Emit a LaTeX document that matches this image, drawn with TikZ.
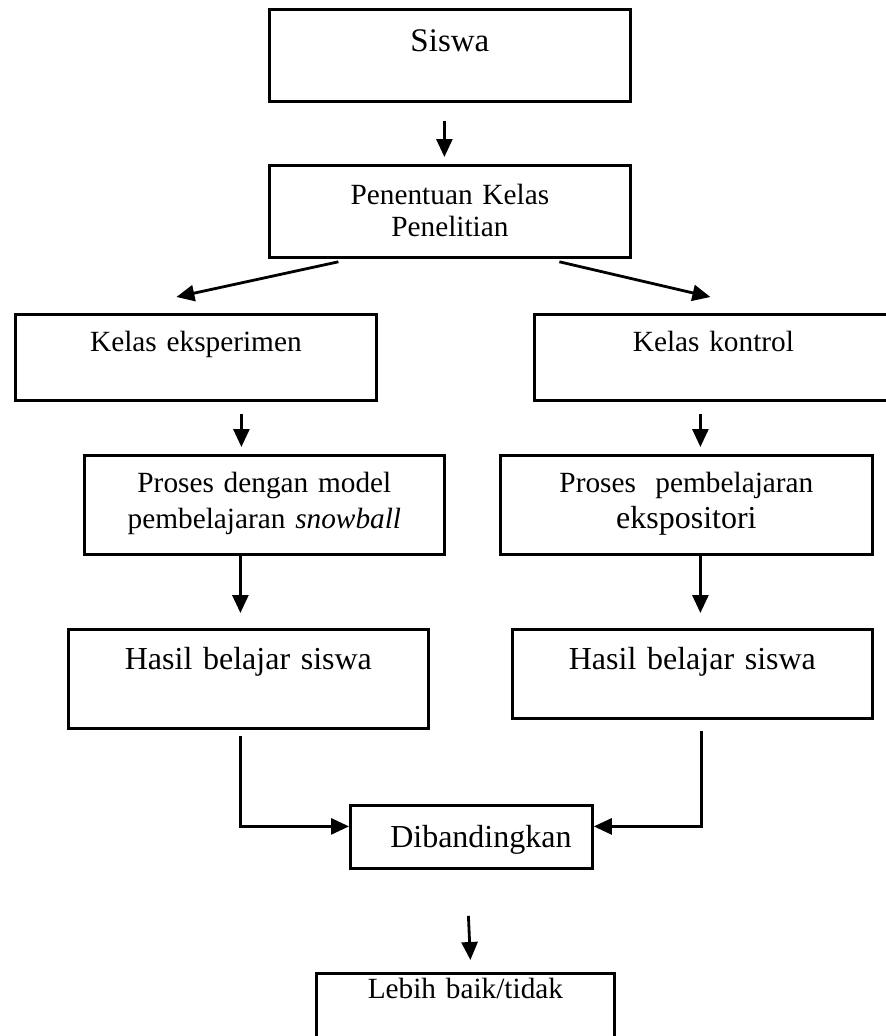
\documentclass[tikz,border=0pt]{standalone}
\usepackage{fontspec}
\setmainfont{Liberation Serif}
\usepackage{tikz}
\usetikzlibrary{arrows.meta}
\newcommand{\teksbiasa}{\fontsize{29.3}{36}\selectfont}
\newcommand{\teksbesar}{\fontsize{32}{36}\selectfont}
\tikzset{
  kotak/.style={draw, line width=2.8pt, inner sep=0pt, align=center, anchor=north west, font=\teksbiasa},
  panah/.style={line width=2.8pt, -{Triangle[length=18pt,width=16pt]}},
}
\begin{document}
\begin{tikzpicture}[x=1pt,y=-1pt]
        \useasboundingbox (0,0) rectangle (886,1036);
        % kotak-kotak
        \node[kotak, text width=361pt, text height=42pt, text depth=50pt, font=\fontsize{33}{36}\selectfont] (siswa) at (268,8) {Siswa};
        \node[kotak, text width=361pt, text height=39pt, text depth=53pt, font=\fontsize{29.3}{32}\selectfont] (tentukan) at (268,164) {Penentuan Kelas\\Penelitian};
        \node[kotak, text width=361pt, text height=37pt, text depth=49pt] (eksp) at (14,313) {Kelas eksperimen};
        \node[kotak, text width=358pt, text height=37pt, text depth=49pt] (kontrol) at (533,313) {Kelas kontrol};
        \node[kotak, text width=360pt, text height=37pt, text depth=62pt] (prosesA) at (83,454) {Proses dengan model\\pembelajaran \textit{snowball}};
        \node[kotak, text width=372pt, text height=37pt, text depth=62pt] (prosesB) at (499,454) {Proses\ \ pembelajaran\\{\teksbesar ekspositori}};
        \node[kotak, text width=360pt, text height=40pt, text depth=59pt, font=\teksbesar] (hasilA) at (67,628) {Hasil belajar siswa};
        \node[kotak, text width=360pt, text height=40pt, text depth=49pt, font=\teksbesar] (hasilB) at (511,628) {Hasil belajar siswa};
        \node[kotak, text width=242pt, text height=42pt, text depth=21pt, font=\teksbesar] (banding) at (349,804) {\hspace*{19pt}Dibandingkan};
        \node[kotak, text width=298pt, text height=25pt, text depth=80pt] (hasil) at (315,972) {Lebih baik/tidak};
        % panah
        \draw[panah] ([xshift=-5.5pt,yshift=-18pt]siswa.south) -- ([xshift=-5.5pt,yshift=7pt]tentukan.north);
        \draw[panah] ([xshift=-111.5pt,yshift=-3pt]tentukan.south) -- ([xshift=-19.5pt,yshift=16pt]eksp.north);
        \draw[panah] ([xshift=109.5pt,yshift=-3pt]tentukan.south) -- ([xshift=-3pt,yshift=16pt]kontrol.north);
        \draw[panah] ([xshift=45.5pt,yshift=-12pt]eksp.south) -- ([xshift=-23pt,yshift=7pt]prosesA.north);
        \draw[panah] ([xshift=-13pt,yshift=-12pt]kontrol.south) -- ([xshift=14pt,yshift=7pt]prosesB.north);
        \draw[panah] ([xshift=-24pt]prosesA.south) -- ([xshift=-8pt,yshift=15pt]hasilA.north);
        \draw[panah] ([xshift=14pt]prosesB.south) -- ([xshift=8pt,yshift=15pt]hasilB.north);
        \draw[panah] ([xshift=-8pt,yshift=-6pt]hasilA.south) |- ([yshift=10.5pt]banding.west);
        \draw[panah] ([xshift=9pt,yshift=-11pt]hasilB.south) |- ([yshift=10.5pt]banding.east);
        \draw[panah] ([xshift=-3pt,yshift=-46pt]banding.south) -- ([xshift=5pt,yshift=12pt]hasil.north);
\end{tikzpicture}
\end{document}
